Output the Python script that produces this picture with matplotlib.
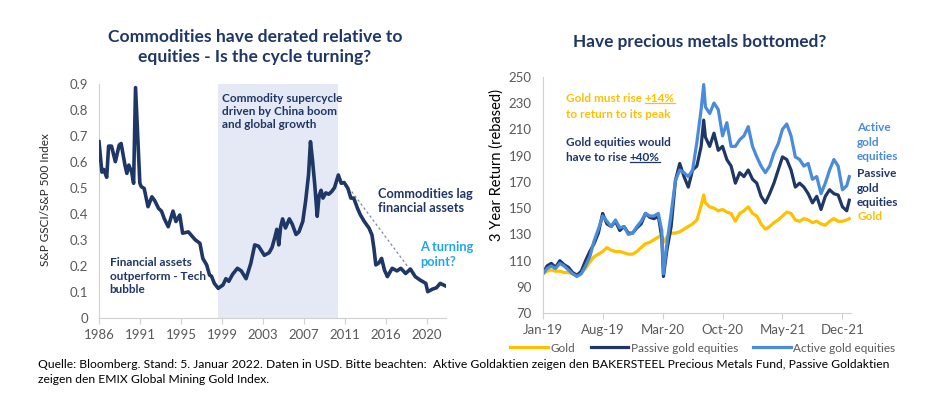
import matplotlib as mpl
mpl.use('Agg')
import matplotlib.pyplot as plt
from matplotlib.lines import Line2D

plt.rcParams['font.family'] = ['Lato', 'DejaVu Sans']

# left chart: S&P GSCI / S&P 500 ratio (decimal years)
ratio_years = [1986.0, 1986.3, 1986.5, 1986.8, 1987.0, 1987.3, 1987.7, 1988.1, 1988.3, 1988.7,
               1988.9, 1989.1, 1989.4, 1989.6, 1989.8, 1990.25, 1990.4, 1990.7, 1991.1, 1991.5,
               1991.8, 1992.2, 1992.5, 1992.8, 1993.2, 1993.7, 1994.0, 1994.4, 1994.7, 1995.3,
               1996.0, 1996.5, 1996.8, 1997.2, 1997.5, 1997.7, 1998.0, 1998.4, 1998.9, 1999.2,
               1999.5, 1999.9, 2000.4, 2000.8, 2001.3, 2001.8, 2002.2, 2002.6, 2003.2, 2003.7,
               2004.0, 2004.3, 2004.5, 2004.7, 2004.9, 2005.1, 2005.4, 2005.8, 2006.1, 2006.5,
               2006.8, 2007.2, 2007.5, 2007.8, 2008.0, 2008.2, 2008.45, 2008.7, 2008.9, 2009.1,
               2009.3, 2009.6, 2009.9, 2010.2, 2010.5, 2010.9, 2011.2, 2011.5, 2011.9, 2012.2,
               2012.5, 2012.9, 2013.2, 2013.6, 2014.1, 2014.4, 2014.6, 2014.8, 2015.1, 2015.4,
               2015.7, 2016.0, 2016.5, 2017.0, 2017.4, 2017.9, 2018.4, 2018.9, 2019.4, 2020.0,
               2020.2, 2020.7, 2021.1, 2021.5, 2022.0]
ratio = [0.677, 0.56, 0.57, 0.54, 0.66, 0.66, 0.60, 0.664, 0.67, 0.587,
         0.555, 0.587, 0.56, 0.517, 0.885, 0.517, 0.504, 0.497, 0.427, 0.465,
         0.45, 0.42, 0.41, 0.38, 0.35, 0.41, 0.37, 0.395, 0.325, 0.33,
         0.30, 0.286, 0.228, 0.203, 0.164, 0.16, 0.132, 0.113, 0.126, 0.15,
         0.14, 0.167, 0.19, 0.18, 0.15, 0.21, 0.28, 0.275, 0.24, 0.25,
         0.27, 0.31, 0.34, 0.28, 0.35, 0.38, 0.345, 0.38, 0.36, 0.32,
         0.33, 0.37, 0.45, 0.55, 0.677, 0.61, 0.51, 0.39, 0.47, 0.49,
         0.46, 0.48, 0.475, 0.485, 0.50, 0.549, 0.517, 0.52, 0.497, 0.46,
         0.46, 0.42, 0.395, 0.37, 0.344, 0.318, 0.267, 0.203, 0.21, 0.228,
         0.183, 0.158, 0.19, 0.18, 0.19, 0.17, 0.187, 0.158, 0.145, 0.132,
         0.10, 0.11, 0.115, 0.132, 0.123]
left_ticklabels = ['1986', '1991', '1995', '1999', '2003', '2007', '2011', '2016', '2020']
supercycle = (1998.4, 2010.9)
trend_x = [2012.3, 2018.4]
trend_y = [0.485, 0.183]

# right chart: 3 year return rebased, months since Jan-19
months = [0, 0.5, 1, 1.5, 2, 2.5, 3, 3.5, 4, 4.5, 5, 5.5, 6, 6.5, 7, 7.5, 8, 8.5, 9, 9.5,
          10, 10.5, 11, 11.5, 12, 12.5, 13, 13.5, 13.9, 14.1, 14.5, 15, 15.5, 16, 16.5, 17, 17.5,
          18, 18.5, 18.8, 19, 19.5, 20, 20.5, 21, 21.5, 22, 22.5, 23, 23.5, 24, 24.5, 25, 25.5,
          26, 26.5, 27, 27.5, 28, 28.5, 29, 29.5, 30, 30.5, 31, 31.5, 32, 32.5, 33, 33.5, 34,
          34.5, 35, 35.5, 35.8]
gold = [100, 102, 103, 102, 102, 101, 101, 100, 99, 101, 104, 109, 113, 115, 117, 120, 118, 117,
        117, 116, 115, 115, 117, 120, 123, 124, 126, 128, 129, 124, 128, 131, 131, 132, 134, 136,
        138, 141, 152, 160, 154, 151, 150, 148, 149, 147, 146, 140, 146, 148, 151, 146, 144, 138,
        134, 136, 139, 141, 144, 147, 146, 141, 140, 142, 141, 139, 140, 138, 137, 140, 142, 140,
        140, 141, 142]
passive = [100, 106, 108, 105, 110, 107, 105, 101, 99, 102, 110, 117, 123, 131, 146, 138, 136,
           140, 133, 136, 131, 131, 135, 138, 146, 143, 142, 144, 128, 98, 118, 136, 171, 184, 174,
           166, 179, 182, 197, 217, 204, 197, 207, 194, 197, 187, 182, 169, 177, 174, 179, 172,
           169, 159, 154, 161, 169, 179, 189, 187, 179, 166, 169, 166, 161, 154, 159, 149, 159,
           164, 161, 160, 151, 148, 156]
active = [100, 104, 106, 104, 108, 106, 103, 100, 98, 100, 106, 113, 125, 134, 144, 140, 136,
          141, 135, 136, 130, 131, 136, 140, 146, 144, 144, 146, 133, 100, 123, 146, 171, 179, 177,
          174, 179, 200, 225, 244, 227, 222, 230, 225, 205, 215, 197, 197, 202, 205, 212, 197,
          189, 182, 177, 182, 192, 199, 210, 214, 205, 189, 187, 182, 184, 172, 174, 161, 169,
          179, 187, 182, 164, 167, 174]
right_ticks = [0, 7, 14, 21, 28, 35]
right_ticklabels = ['Jan-19', 'Aug-19', 'Mar-20', 'Oct-20', 'May-21', 'Dec-21']

NAVY = '#1F3766'
LBLUE = '#4A8BDA'
GOLD = '#FFC000'
GREY = '#595959'
SPINE = '#D0D0D0'

W, H = 940, 393


def fx(px):
    return px / W


def fy(py):
    return 1 - py / H


fig = plt.figure(figsize=(9.4, 3.93), dpi=100)

# ---- left panel
ax1 = fig.add_axes([fx(99), fy(317.7), fx(446 - 99), (317.7 - 83.7) / H])
ax1.axvspan(*supercycle, color='#E4E9F5', lw=0, zorder=0)
ax1.plot(ratio_years, ratio, color=NAVY, lw=2.6, solid_joinstyle='round', zorder=3)
ax1.plot(trend_x, trend_y, color='#7F8AA8', lw=0.9, ls=(0, (2, 2)), zorder=2)
ax1.set_xlim(1986, 2022.1)
ax1.set_ylim(0, 0.9)
step = (2022.0 - 1986) / 8.44
ax1.set_xticks([1986 + i * step for i in range(len(left_ticklabels))])
ax1.set_xticklabels(left_ticklabels)
ax1.set_yticks([i / 10 for i in range(10)])
ax1.set_yticklabels(['0'] + ['%.1f' % (i / 10) for i in range(1, 10)])
for s in ['top', 'right']:
    ax1.spines[s].set_visible(False)
for s in ['left', 'bottom']:
    ax1.spines[s].set_color(SPINE)
ax1.tick_params(axis='x', colors=SPINE, labelcolor=GREY, labelsize=9.5, length=4, pad=4)
ax1.tick_params(axis='y', length=0, labelcolor=GREY, labelsize=9.5, pad=8)

ann = dict(color=NAVY, fontsize=8.5, fontweight='bold', va='top', ha='left', linespacing=1.25)
ax1.text(1998.75, 0.865, 'Commodity supercycle\ndriven by China boom\nand global growth', **ann)
ax1.text(1987.1, 0.232, 'Financial assets\noutperform - Tech\nbubble', **ann)
ann['fontsize'] = 9.2
ax1.text(2015.0, 0.5, 'Commodities lag\nfinancial assets', **ann)
ann['color'] = '#1FA5EA'
ax1.text(2019.4, 0.295, 'A turning\npoint?', **ann)

fig.text(fx(255), fy(47), 'Commodities have derated relative to\nequities - Is the cycle turning?',
         ha='center', va='center', color=NAVY, fontsize=12.6, fontweight='bold', linespacing=1.3)
fig.text(fx(46), fy(200), 'S&P GSCI/S&P 500 Index', rotation=90, ha='center', va='center',
         color='#262626', fontsize=8.5)

# ---- right panel
ax2 = fig.add_axes([fx(542.7), fy(313.3), fx(851 - 542.7), (313.3 - 76.7) / H])
ax2.plot(months, gold, color=GOLD, lw=2.3, label='Gold')
ax2.plot(months, passive, color=NAVY, lw=2.3, label='Passive gold equities')
ax2.plot(months, active, color=LBLUE, lw=2.3, label='Active gold equities')
ax2.set_xlim(0, 36)
ax2.set_ylim(70, 250)
ax2.set_yticks(range(70, 251, 20))
ax2.set_xticks(right_ticks)
ax2.set_xticklabels(right_ticklabels)
for s in ['top', 'right']:
    ax2.spines[s].set_visible(False)
for s in ['left', 'bottom']:
    ax2.spines[s].set_color(SPINE)
ax2.tick_params(axis='x', colors=SPINE, labelcolor=GREY, labelsize=9.5, length=4, pad=4)
ax2.tick_params(axis='y', length=0, labelcolor=GREY, labelsize=9.5, pad=8)

leg = fig.legend(loc='center', bbox_to_anchor=(fx(703), fy(348)), ncol=3, frameon=False,
                 fontsize=8.5, handlelength=3.2, handletextpad=0.2, columnspacing=1.3,
                 labelcolor=GREY)

fig.text(fx(700), fy(42), 'Have precious metals bottomed?', ha='center', va='center',
         color=NAVY, fontsize=12.4, fontweight='bold')
fig.text(fx(497), fy(165), '3 Year Return (rebased)', rotation=90, ha='center', va='center',
         color='#000000', fontsize=10.5)

rann = dict(fontsize=8.5, fontweight='bold', va='center', ha='left')
t1 = fig.text(fx(566), fy(99), 'Gold must rise ', color=GOLD, **rann)
fig.text(fx(566), fy(114), 'to return to its peak', color=GOLD, **rann)
fig.text(fx(566), fy(143), 'Gold equities would', color=NAVY, **rann)
t3 = fig.text(fx(566), fy(158), 'have to rise ', color=NAVY, **rann)
fig.canvas.draw()
inv = fig.transFigure.inverted()
u1 = fig.text(inv.transform(t1.get_window_extent().get_points())[1][0], fy(99), '+14%',
              color=GOLD, **rann)
u2 = fig.text(inv.transform(t3.get_window_extent().get_points())[1][0], fy(158), '+40%',
              color=NAVY, **rann)

fig.text(fx(857), fy(142), 'Active\ngold\nequities', color=LBLUE, fontsize=8.5,
         fontweight='bold', va='center', ha='left', linespacing=1.4)
fig.text(fx(857), fy(188), 'Passive\ngold\nequities', color=NAVY, fontsize=8.5,
         fontweight='bold', va='center', ha='left', linespacing=1.4)
fig.text(fx(857), fy(217), 'Gold', color=GOLD, fontsize=8.5, fontweight='bold',
         va='center', ha='left')

fig.text(fx(38), fy(372),
         'Quelle: Bloomberg. Stand: 5. Januar 2022. Daten in USD. Bitte beachten:  Aktive Goldaktien '
         'zeigen den BAKERSTEEL Precious Metals Fund, Passive Goldaktien\n'
         'zeigen den EMIX Global Mining Gold Index.',
         ha='left', va='center', color='#000000', fontsize=8.7, linespacing=1.45)

fig.canvas.draw()
for t in (u1, u2):
    (x0, y0), (x1, y1) = inv.transform(t.get_window_extent().get_points())
    fig.add_artist(Line2D([x0, x1], [y0 + 0.004, y0 + 0.004], transform=fig.transFigure,
                          color=t.get_color(), lw=0.9))

fig.savefig('out.png', dpi=100)
